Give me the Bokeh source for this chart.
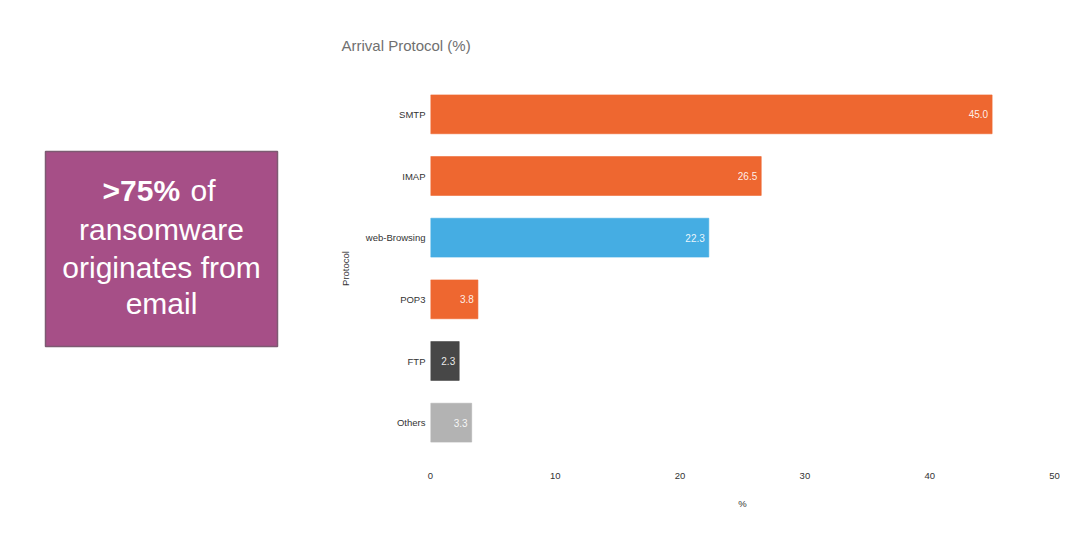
from bokeh.plotting import figure
from bokeh.models import ColumnDataSource, FactorRange, Range1d, FixedTicker
from bokeh.layouts import row
from bokeh.core.properties import value
from bokeh.embed import file_html
from bokeh.resources import INLINE

# ---- data ----
protocols = ["SMTP", "IMAP", "web-Browsing", "POP3", "FTP", "Others"]
shares = [45.0, 26.5, 22.3, 3.8, 2.3, 3.3]
bar_colors = ["#EE6730", "#EE6730", "#45ADE3", "#EE6730", "#474747", "#B3B3B3"]
x_ticks = [0, 10, 20, 30, 40, 50]
title_text = "Arrival Protocol (%)"
callout_lines = ["ransomware", "originates from", "email"]
callout_bold = ">75%"
callout_rest = "of"

FONT = "Liberation Sans"
H = 529
TOP, BOTTOM = 83, 76

# ---- left panel: call-out box (coordinates = page pixels) ----
left = figure(width=320, height=H, output_backend="svg", toolbar_location=None,
              x_range=Range1d(0, 320), y_range=Range1d(H - BOTTOM, TOP),
              min_border_left=0, min_border_right=0,
              min_border_top=TOP, min_border_bottom=BOTTOM,
              outline_line_color=None)
left.axis.visible = False
left.grid.visible = False
left.quad(left=45, right=277, top=151, bottom=346,
          fill_color="#A64F87", line_color="#7D5A72", line_width=1.5)
left.text(x=[102], y=[190], text=[callout_bold], text_color="white",
          text_font=value(FONT), text_font_size="30px", text_font_style="bold",
          text_align="left", text_baseline="middle")
left.text(x=[190], y=[190], text=[callout_rest], text_color="white",
          text_font=value(FONT), text_font_size="30px",
          text_align="left", text_baseline="middle")
left.text(x=[161, 161, 161], y=[229, 267, 303], text=callout_lines, text_color="white",
          text_font=value(FONT), text_font_size="30px",
          text_align="center", text_baseline="middle")

# ---- right panel: bar chart ----
src = ColumnDataSource(dict(
    protocol=protocols,
    share=shares,
    color=bar_colors,
    label=[f"{v:.1f}" for v in shares],
))

p = figure(width=740, height=H, output_backend="svg", toolbar_location=None,
           y_range=FactorRange(factors=protocols[::-1]),
           x_range=Range1d(0, 50),
           min_border_left=110, min_border_right=6,
           min_border_top=TOP, min_border_bottom=BOTTOM,
           outline_line_color=None, title=title_text)

p.title.align = "left"
p.title.offset = -89
p.title.standoff = 59
p.title.text_font = FONT
p.title.text_font_size = "15px"
p.title.text_font_style = "normal"
p.title.text_color = "#707070"

p.hbar(y="protocol", right="share", left=0, height=0.63, source=src,
       fill_color="color", line_color="color", line_alpha=0.6)
p.text(x="share", y="protocol", text="label", source=src,
       text_color="white", text_alpha=0.9, text_font=value(FONT),
       text_font_size="10px", text_align="right", text_baseline="middle",
       x_offset=-4)

p.grid.visible = False
for ax in (p.xaxis[0], p.yaxis[0]):
    ax.axis_line_color = None
    ax.major_tick_line_color = None
    ax.minor_tick_line_color = None
    ax.major_tick_out = 0
    ax.minor_tick_out = 0
    ax.major_label_text_font = FONT
    ax.major_label_text_font_size = "9.5px"
    ax.major_label_text_color = "#333333"
    ax.axis_label_text_font = FONT
    ax.axis_label_text_font_size = "9.5px"
    ax.axis_label_text_font_style = "normal"
    ax.axis_label_text_color = "#333333"

p.xaxis.ticker = FixedTicker(ticks=x_ticks)
p.xaxis.major_label_standoff = 19
p.xaxis.axis_label = "%"
p.xaxis.axis_label_standoff = 16
p.yaxis.major_label_standoff = 5
p.yaxis.axis_label = "Protocol"
p.yaxis.axis_label_standoff = 12

layout = row(left, p, spacing=0)
open("out.html", "w").write(file_html(layout, INLINE))
